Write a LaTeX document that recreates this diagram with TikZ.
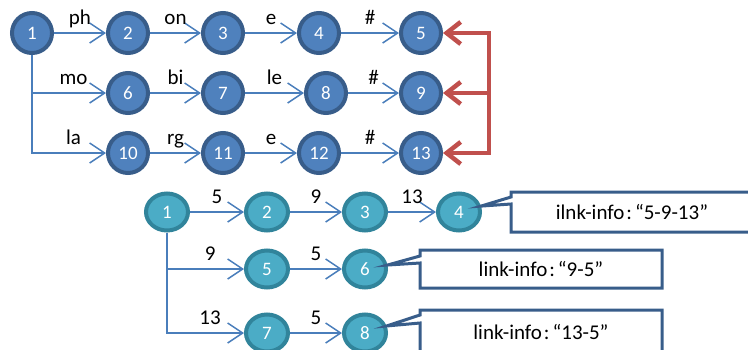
\documentclass[tikz,border=0pt]{standalone}
\usepackage{fontspec}
\setmainfont{Carlito}
\usetikzlibrary{arrows.meta,shapes.geometric}

\definecolor{topfill}{HTML}{4F81BD}
\definecolor{topline}{HTML}{385D8A}
\definecolor{botfill}{HTML}{4BACC6}
\definecolor{botline}{HTML}{31849B}
\definecolor{linkblue}{HTML}{4A7EBB}
\definecolor{backred}{HTML}{C0504D}

\tikzset{
	topnode/.style={circle,fill=topfill,draw=topline,line width=4pt,minimum size=40pt,
		inner sep=0pt,text=white,font=\fontsize{19}{21}\selectfont},
	botnode/.style={ellipse,fill=botfill,draw=botline,line width=4pt,minimum width=42pt,
		minimum height=37pt,inner sep=0pt,text=white,font=\fontsize{19}{21}\selectfont},
	link/.style={draw=linkblue,line width=1.5pt,-{Straight Barb[length=15pt,width=20pt]}},
	lbl/.style={above=8pt,inner sep=0pt,text depth=0pt,text=black,font=\fontsize{21}{24}\selectfont},
	back/.style={draw=backred,line width=4.5pt,line join=miter},
	redtip/.tip={Straight Barb[length=14pt,width=22pt]},
	infoline/.style={draw=topline,line width=3pt,fill=white,line join=miter},
	infotext/.style={inner sep=0pt,font=\fontsize{21}{24}\selectfont}
}

\begin{document}
\begin{tikzpicture}[x=1pt,y=-1pt]
		\useasboundingbox (0,0) rectangle (748,349);
		
		% setup the trie nodes (upper part)
		\foreach \n/\x/\y in {1/32/33,2/128/33,3/223/33,4/319/33,5/421/33,
			6/128/93,7/223/93,8/326/93,9/421/93,
			10/128/153,11/223/153,12/319/153,13/421/153} {
			\node[topnode] (t\n) at (\x,\y) {\n};
		}
		
		% letters on the trie edges
		\foreach \a/\b/\txt in {t1/t2/ph,t2/t3/on,t3/t4/e,t4/t5/\#,
			t6/t7/bi,t7/t8/le,t8/t9/\#,
			t10/t11/rg,t11/t12/e,t12/t13/\#} {
			\draw[link] (\a) -- node[lbl]{\txt} (\b);
		}
		\draw[link] (t1.south) |- node[lbl,pos=0.78]{mo} (t6);
		\draw[link] (t1.south) |- node[lbl,pos=0.78]{la} (t10);
		
		% red bracket back to the end nodes
		\coordinate (rtop) at (489,33);
		\coordinate (rmid) at (489,93);
		\coordinate (rbot) at (489,153);
		\draw[back,redtip-redtip] (t5) -- (rtop) -- (rbot) -- (t13);
		\draw[back,-redtip] (rmid) -- (t9);
		
		% setup the link nodes (lower part)
		\foreach \n/\x/\y in {1/167/212,2/267/212,3/365/212,4/459/212,
			5/267/269,6/365/269,7/267/333,8/365/333} {
			\node[botnode] (b\n) at (\x,\y) {\n};
		}
		
		% numbers on the link edges
		\foreach \a/\b/\txt in {b1/b2/5,b2/b3/9,b3/b4/13,b5/b6/5,b7/b8/5} {
			\draw[link] (\a) -- node[lbl]{\txt} (\b);
		}
		\draw[link] (b1.south) |- node[lbl,pos=0.78]{9} (b5);
		\draw[link] (b1.south) |- node[lbl,pos=0.78]{13} (b7);
		
		% link-info callouts, pointing at the end nodes
		\draw[infoline] (755,192) -- (511,192) -- (511,197) -- (b4.15) -- (511,204)
			-- (511,232) -- (755,232) -- cycle;
		\draw[infoline] (662,250) -- (420,250) -- (420,256) -- (b6.10) -- (420,263)
			-- (420,288) -- (662,288) -- cycle;
		\draw[infoline] (662,310) -- (420,310) -- (420,315) -- (b8.18) -- (420,323)
			-- (420,352) -- (662,352) -- cycle;
		\node[infotext] (i1) at (632,212) {ilnk-info\kern2pt:\kern3pt“5-9-13”};
		\node[infotext] (i2) at (541,269) {link-info\kern2pt:\kern3pt“9-5”};
		\node[infotext] (i3) at (541,332) {link-info\kern2pt:\kern3pt“13-5”};
\end{tikzpicture}
\end{document}
